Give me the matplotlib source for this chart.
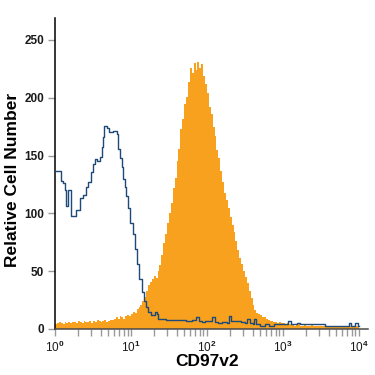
import numpy as np
import matplotlib
matplotlib.use("Agg")
import matplotlib.pyplot as plt
from matplotlib.ticker import LogLocator, FixedLocator

plt.rcParams['font.family'] = ['Liberation Sans', 'DejaVu Sans']
plt.rcParams['mathtext.fontset'] = 'custom'
plt.rcParams['mathtext.rm'] = 'Liberation Sans:bold'
plt.rcParams['mathtext.default'] = 'rm'

# stained sample: counts per channel, channels evenly spread over 10^0 .. 10^4
orange_counts = [
    4, 5, 6, 5, 4, 6, 5, 6, 5, 6,
    6, 5, 7, 6, 5, 7, 6, 6, 7, 5,
    7, 6, 8, 7, 6, 7, 8, 6, 7, 8,
    8, 9, 10, 9, 11, 10, 9, 11, 12, 11,
    13, 15, 14, 17, 19, 21, 24, 28, 33, 38,
    41, 43, 46, 44, 50, 55, 64, 74, 82, 92,
    100, 109, 122, 131, 145, 156, 173, 182, 195, 201,
    214, 226, 221, 230, 224, 231, 226, 229, 219, 212,
    204, 192, 186, 175, 167, 155, 148, 137, 127, 118,
    112, 105, 97, 90, 84, 76, 68, 61, 56, 50,
    45, 40, 33, 27, 21, 16, 14, 13, 12, 10,
    10, 9, 8, 7, 7, 6, 6, 5, 6, 5,
    5, 4, 5, 4, 4, 4, 3, 4, 4, 3,
    3, 4, 3, 3, 3, 4, 3, 3, 3, 3,
    3, 3, 2, 3, 3, 2, 3, 3, 2, 3,
    3, 2, 3, 3, 2, 3, 3, 2, 3, 3,
]

# isotype control: step outline, (log10 intensity where step starts, count)
blue_log = [
    0.00, 0.085, 0.11, 0.13, 0.145, 0.15, 0.175, 0.215, 0.28, 0.33,
    0.37, 0.405, 0.44, 0.47, 0.50, 0.53, 0.548, 0.59, 0.614, 0.636,
    0.649, 0.689, 0.715, 0.759, 0.811, 0.833, 0.855, 0.877, 0.90, 0.92,
    0.94, 0.965, 0.99, 1.02, 1.05, 1.08, 1.11, 1.14, 1.17, 1.20,
    1.23, 1.26, 1.29, 1.31, 1.34, 1.36, 1.42, 1.46, 1.55, 1.66,
    1.72, 1.80, 1.86, 1.89, 1.93, 1.98, 2.03, 2.07, 2.10, 2.15,
    2.20, 2.26, 2.29, 2.32, 2.38, 2.45, 2.50, 2.53, 2.56, 2.60,
    2.62, 2.65, 2.70, 2.76, 2.82, 2.88, 2.95, 3.00, 3.07, 3.11,
    3.18, 3.23, 3.30, 3.40, 3.50, 3.55, 3.70, 3.85, 3.87, 3.90,
    3.95, 3.99, 4.00,
]
blue_counts = [
    137, 128, 126, 120, 111, 106, 120, 98, 103, 113,
    116, 123, 127, 136, 143, 147, 145, 149, 157, 166,
    176, 174, 170, 171, 169, 156, 148, 140, 130, 123,
    115, 105, 92, 82, 69, 56, 43, 32, 24, 19,
    15, 12, 12, 15, 13, 9, 8.5, 8, 7.5, 8,
    7, 7.5, 10.5, 7, 6, 7, 6.5, 10.5, 6, 5.5,
    6, 5.5, 11, 7, 6.5, 6, 5.5, 9, 5, 4,
    9, 4, 3, 4, 3, 4, 4.5, 4, 6.5, 4.5,
    5.5, 4, 4, 4.5, 4, 3, 3, 2.5, 5, 3,
    5, 3, 3,
]

y_ticks = [0, 50, 100, 150, 200, 250]
x_decades = [1, 10, 100, 1000, 10000]
x_ticklabels = ['10$^{0}$', '10$^{1}$', '10$^{2}$', '10$^{3}$', '10$^{4}$']

fig = plt.figure(figsize=(3.75, 3.75), dpi=100)
ax = fig.add_axes([0.1467, 0.1227, 0.8343, 0.8293])

edges = np.logspace(0, 4, len(orange_counts) + 1)
ax.fill_between(edges, list(orange_counts) + [orange_counts[-1]], 0,
                step='post', color='#f7a11f', linewidth=0, zorder=2)

bx = [10 ** v for v in blue_log]
ax.step(bx, blue_counts, where='post', color='#1d4a78', linewidth=1.0, zorder=3)

ax.set_xscale('log')
ax.set_xlim(1, 10 ** 4.118)
ax.set_ylim(0, 269)

ax.xaxis.set_major_locator(FixedLocator(x_decades))
ax.set_xticklabels(x_ticklabels)
ax.xaxis.set_minor_locator(LogLocator(base=10, subs=np.arange(2, 10), numticks=20))
ax.yaxis.set_major_locator(FixedLocator(y_ticks))

for s in ['top', 'right']:
    ax.spines[s].set_visible(False)
ax.spines['left'].set_color('black')
ax.spines['left'].set_linewidth(1.1)
ax.spines['bottom'].set_color('#4a4a4a')
ax.spines['bottom'].set_linewidth(1.1)

ax.tick_params(axis='both', which='both', direction='out', color='#999999',
               width=1, length=5)
ax.tick_params(axis='x', which='minor', length=5)
ax.tick_params(axis='both', labelsize=8.5, labelcolor='#1a1a1a', pad=3)
for lab in ax.get_yticklabels():
    lab.set_fontweight('bold')

fig.text(207 / 375, 1 - 362 / 375, 'CD97v2', ha='center', va='center',
         fontsize=12.5, fontweight='bold')
fig.text(13 / 375, 1 - 180 / 375, 'Relative Cell Number', ha='center',
         va='center', rotation=90, fontsize=12.5, fontweight='bold')

fig.savefig('out.png', dpi=100)
